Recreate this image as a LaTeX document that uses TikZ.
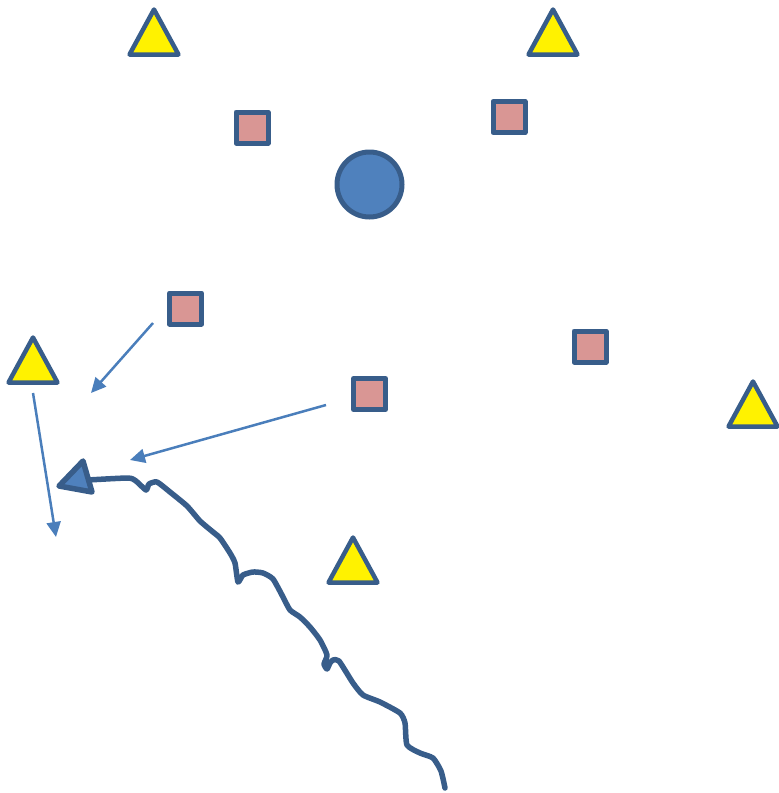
\documentclass[tikz,border=0pt]{standalone}
\usetikzlibrary{arrows.meta}
\definecolor{edgeblue}{HTML}{385D8A}
\definecolor{fillblue}{HTML}{4F81BD}
\definecolor{linkblue}{HTML}{4A7EBB}
\definecolor{rose}{HTML}{D99694}
\tikzset{
  tri/.style={draw=edgeblue, fill=yellow, line width=4.5pt, line join=round},
  sq/.style={draw=edgeblue, fill=rose, line width=5pt, line join=round,
    minimum width=32pt, minimum height=31pt, inner sep=0pt, outer sep=0pt},
  disc/.style={circle, draw=edgeblue, fill=fillblue, line width=5pt,
    minimum size=65pt, inner sep=0pt},
  link/.style={draw=linkblue, line width=2.5pt,
    -{Triangle[length=15pt, width=14pt]}},
  trail/.style={draw=edgeblue, line width=5.5pt, line cap=round, line join=round},
  head/.style={draw=edgeblue, fill=fillblue, line width=5.5pt, line join=round}
}
\newcommand{\warntri}[1]{%
  \draw[tri, shift={(#1)}] (0,0) -- (-24.5,45) -- (24.5,45) -- cycle;}
\begin{document}
\begin{tikzpicture}[x=1pt, y=-1pt]
\useasboundingbox (0,0) rectangle (779,793);

% yellow triangles (apex positions)
\coordinate (t1) at (154,9.5);
\coordinate (t2) at (553,9.5);
\coordinate (t3) at (33,337.5);
\coordinate (t4) at (753,381.5);
\coordinate (t5) at (353,537.5);
\warntri{t1}\warntri{t2}\warntri{t3}\warntri{t4}\warntri{t5}

% squares
\node[sq] (s1) at (252,127.5) {};
\node[sq] (s2) at (509,117) {};
\node[sq] (s3) at (185.5,308.5) {};
\node[sq] (s4) at (590,346.5) {};
\node[sq] (s5) at (369.5,394) {};

% circle
\node[disc] (c1) at (369.5,184.5) {};

% thin arrows
\coordinate (a1s) at (153,323);  \coordinate (a1e) at (91,393);
\coordinate (a2s) at (326,405);  \coordinate (a2e) at (130,460);
\coordinate (a3s) at (33,393);   \coordinate (a3e) at (56,537);
\draw[link] (a1s) -- (a1e);
\draw[link] (a2s) -- (a2e);
\draw[link] (a3s) -- (a3e);

% hand-drawn trail ending in a big arrowhead
\coordinate (htip) at (59,486);
\coordinate (htop) at (83,461);
\coordinate (hbot) at (92,492);
\draw[trail] plot[smooth, tension=0.35] coordinates {
  (88,480) (128,478) (136,481) (146,490) (149,484) (157,482) (170,492)
  (187,506) (200,521) (213,532) (220,538) (230,553) (235,563) (238,582)
  (243,575) (253,572) (263,573) (273,579) (283,597) (290,610) (300,617)
  (310,627) (320,640) (327,655) (324,664) (327,669) (330,663) (333,660)
  (339,661) (353,683) (363,695) (380,702) (400,713) (405,723) (407,745)
  (420,753) (433,758) (441,771) (445,788)};
\draw[head] (htip) -- (htop) -- (hbot) -- cycle;
\end{tikzpicture}
\end{document}
